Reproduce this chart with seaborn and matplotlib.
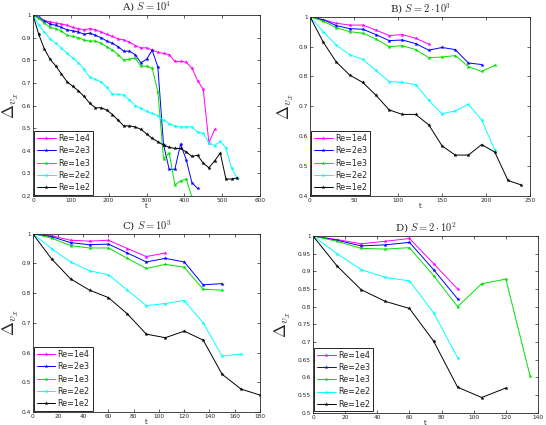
import matplotlib
matplotlib.use("Agg")
import matplotlib.pyplot as plt
from matplotlib.ticker import FuncFormatter
import numpy as np
import pandas as pd
import seaborn as sns

sns.set_style("ticks")
plt.rcParams['font.family'] = ['DejaVu Sans']
plt.rcParams['mathtext.fontset'] = 'cm'

labels = ['Re=1e4', 'Re=2e3', 'Re=1e3', 'Re=2e2', 'Re=1e2']
colors = ['#ff00ff', '#0000ff', '#00e000', '#00ffff', '#000000']
dt = 15

# Panel A) S = 10^4
a_re1e4 = [1.0, 0.985, 0.975, 0.97, 0.965, 0.96, 0.955, 0.945, 0.94, 0.935, 0.94, 0.935, 0.925,
           0.915, 0.905, 0.895, 0.89, 0.88, 0.865, 0.855, 0.855, 0.845, 0.835, 0.83, 0.825, 0.795,
           0.795, 0.792, 0.765, 0.71, 0.672, 0.435, 0.494]
a_re2e3 = [1.0, 0.99, 0.975, 0.96, 0.955, 0.945, 0.935, 0.93, 0.925, 0.915, 0.92, 0.91, 0.9,
           0.885, 0.875, 0.86, 0.84, 0.84, 0.825, 0.789, 0.804, 0.844, 0.77, 0.427, 0.318, 0.318,
           0.43, 0.36, 0.259, 0.234]
a_re1e3 = [1.0, 0.985, 0.965, 0.945, 0.94, 0.93, 0.91, 0.905, 0.9, 0.89, 0.885, 0.885, 0.875,
           0.86, 0.845, 0.825, 0.8, 0.805, 0.81, 0.774, 0.774, 0.765, 0.661, 0.365, 0.39, 0.249,
           0.267, 0.275, 0.195]
a_re2e2 = [1.0, 0.955, 0.925, 0.895, 0.875, 0.855, 0.83, 0.81, 0.79, 0.76, 0.725, 0.715, 0.705,
           0.68, 0.65, 0.65, 0.645, 0.625, 0.6, 0.587, 0.575, 0.565, 0.555, 0.535, 0.52, 0.509,
           0.505, 0.505, 0.505, 0.482, 0.477, 0.435, 0.423, 0.442, 0.412, 0.323, 0.279]
a_re1e2 = [1.0, 0.915, 0.85, 0.805, 0.775, 0.74, 0.705, 0.685, 0.665, 0.64, 0.61, 0.59, 0.59,
           0.58, 0.56, 0.535, 0.51, 0.51, 0.505, 0.495, 0.475, 0.455, 0.44, 0.425, 0.415, 0.41,
           0.41, 0.395, 0.375, 0.38, 0.345, 0.325, 0.355, 0.39, 0.275, 0.275, 0.28]

# Panel B) S = 2*10^3
b_re1e4 = [1.0, 0.99, 0.978, 0.972, 0.972, 0.955, 0.937, 0.94, 0.928, 0.908]
b_re2e3 = [1.0, 0.99, 0.97, 0.96, 0.958, 0.94, 0.92, 0.922, 0.91, 0.888, 0.897, 0.89, 0.845, 0.84]
b_re1e3 = [1.0, 0.985, 0.963, 0.95, 0.945, 0.925, 0.9, 0.903, 0.89, 0.863, 0.865, 0.87, 0.833,
           0.817, 0.837]
b_re2e2 = [1.0, 0.95, 0.905, 0.873, 0.857, 0.82, 0.783, 0.78, 0.773, 0.72, 0.675, 0.685, 0.707,
           0.655, 0.553]
b_re1e2 = [1.0, 0.915, 0.848, 0.805, 0.78, 0.737, 0.688, 0.673, 0.673, 0.638, 0.568, 0.537, 0.537,
           0.572, 0.547, 0.452, 0.437]

# Panel C) S = 10^3
c_re1e4 = [1.0, 0.993, 0.978, 0.975, 0.978, 0.95, 0.923, 0.935]
c_re2e3 = [1.0, 0.99, 0.97, 0.963, 0.965, 0.935, 0.905, 0.917, 0.905, 0.828, 0.832]
c_re1e3 = [1.0, 0.985, 0.96, 0.952, 0.952, 0.917, 0.883, 0.897, 0.887, 0.813, 0.81]
c_re2e2 = [1.0, 0.95, 0.905, 0.875, 0.862, 0.81, 0.758, 0.765, 0.775, 0.7, 0.588, 0.595]
c_re1e2 = [1.0, 0.915, 0.848, 0.81, 0.785, 0.73, 0.662, 0.65, 0.672, 0.642, 0.527, 0.477, 0.457]

# Panel D) S = 2*10^2
d_re1e4 = [1.0, 0.99, 0.978, 0.985, 0.993, 0.922, 0.85]
d_re2e3 = [1.0, 0.988, 0.972, 0.975, 0.982, 0.905, 0.822]
d_re1e3 = [1.0, 0.985, 0.965, 0.963, 0.967, 0.888, 0.8, 0.865, 0.878, 0.605]
d_re2e2 = [1.0, 0.95, 0.905, 0.883, 0.873, 0.783, 0.655]
d_re1e2 = [1.0, 0.915, 0.848, 0.815, 0.795, 0.703, 0.572, 0.543, 0.57]

panels = [
    dict(title=r'A) $S=10^4$', series=[a_re1e4, a_re2e3, a_re1e3, a_re2e2, a_re1e2],
         xlim=(0, 600), xstep=100, ylim=(0.2, 1), ystep=0.1, pos=(33, 15, 260, 196), lab_off=12),
    dict(title=r'B) $S=2\cdot10^3$', series=[b_re1e4, b_re2e3, b_re1e3, b_re2e2, b_re1e2],
         xlim=(0, 250), xstep=50, ylim=(0.4, 1), ystep=0.1, pos=(310, 16.7, 530, 196), lab_off=14),
    dict(title=r'C) $S=10^3$', series=[c_re1e4, c_re2e3, c_re1e3, c_re2e2, c_re1e2],
         xlim=(0, 180), xstep=20, ylim=(0.4, 1), ystep=0.1, pos=(32.7, 233.7, 260, 412), lab_off=12),
    dict(title=r'D) $S=2\cdot10^2$', series=[d_re1e4, d_re2e3, d_re1e3, d_re2e2, d_re1e2],
         xlim=(0, 140), xstep=20, ylim=(0.5, 1), ystep=0.05, pos=(313, 236, 538, 412.7), lab_off=20),
]

W, H = 546, 425
fig = plt.figure(figsize=(W / 100, H / 100), dpi=100)

for p in panels:
    l, t, r, b = p['pos']
    ax = fig.add_axes([l / W, 1 - b / H, (r - l) / W, (b - t) / H])
    for vals, lab, col in zip(p['series'], labels, colors):
        df = pd.DataFrame({'t': np.arange(len(vals)) * dt, 'dv': vals})
        sns.lineplot(data=df, x='t', y='dv', color=col, label=lab, marker='*',
                     markersize=3.2, markeredgewidth=0, linewidth=0.7,
                     estimator=None, ax=ax)
    ax.set_xlim(*p['xlim'])
    ax.set_ylim(*p['ylim'])
    ax.set_xticks(np.arange(p['xlim'][0], p['xlim'][1] + 1e-9, p['xstep']))
    ax.set_yticks(np.round(np.arange(p['ylim'][0], p['ylim'][1] + 1e-9, p['ystep']), 3))
    ax.yaxis.set_major_formatter(FuncFormatter(lambda v, _: f'{v:g}'))
    ax.xaxis.set_major_formatter(FuncFormatter(lambda v, _: f'{v:g}'))
    ax.tick_params(direction='in', length=2, width=0.5, labelsize=4.2, pad=1.5,
                   top=True, right=True)
    for s in ax.spines.values():
        s.set_linewidth(0.6)
        s.set_visible(True)
    ax.set_title(p['title'], fontsize=7.5, family='DejaVu Serif', pad=3)
    ax.set_xlabel('t', fontsize=5, labelpad=0)
    ax.set_ylabel(r'$\Delta_{v_x}$', fontsize=12)
    ax.yaxis.set_label_coords(-p['lab_off'] / (r - l), 0.5)
    leg = ax.legend(loc='lower left', fontsize=5.8, frameon=True, fancybox=False,
                    edgecolor='black', framealpha=1, handlelength=2.3,
                    borderaxespad=0.15, labelspacing=0.4, borderpad=0.35,
                    handletextpad=0.3)
    leg.get_frame().set_linewidth(0.6)

fig.savefig('out.png', dpi=100)
